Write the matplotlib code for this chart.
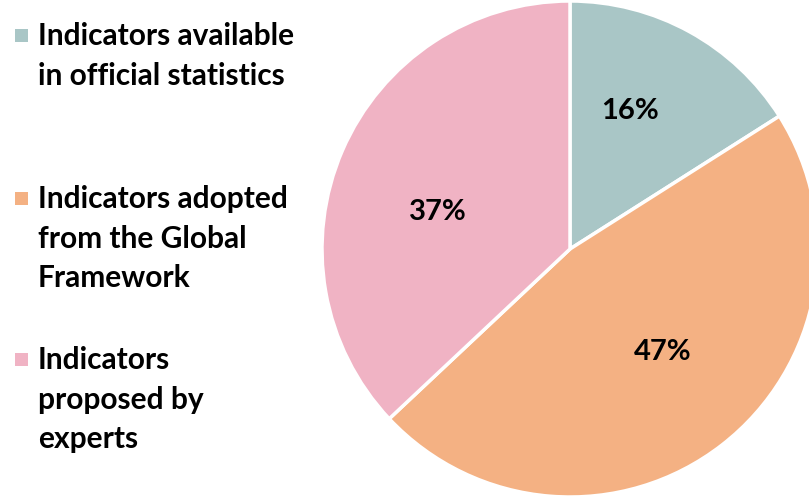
import matplotlib.pyplot as plt
from matplotlib.patches import Rectangle

# Share of indicators by source (%)
categories = ['Indicators available\nin official statistics',
              'Indicators adopted\nfrom the Global\nFramework',
              'Indicators\nproposed by\nexperts']
shares = [16, 47, 37]
colors = ['#A9C6C6', '#F4B183', '#F0B3C4']

W, H = 809, 499
fig = plt.figure(figsize=(W / 100, H / 100), dpi=100)

# pie centred at (570, 250) px, radius ~248 px, runs off the right edge
cx, cy, r = 570, 249, 248
ax = fig.add_axes([(cx - r) / W, (H - cy - r) / H, 2 * r / W, 2 * r / H])
wedges, texts, autotexts = ax.pie(
    shares, colors=colors, startangle=90, counterclock=False,
    autopct='%d%%', pctdistance=0.58,
    wedgeprops=dict(edgecolor='white', linewidth=2.5),
    textprops=dict(fontsize=21, fontweight='bold', family='Lato', color='black'))
for w in wedges:
    w.set_clip_on(False)

# label spots as placed in the original (best-fit style)
label_pos = [(0.242, 0.556), (0.375, -0.415), (-0.532, 0.149)]
for t, p in zip(autotexts, label_pos):
    t.set_position(p)

ax.set_xlim(-1, 1)
ax.set_ylim(-1, 1)
ax.set_aspect('auto')
ax.axis('off')

# hand-made legend: square lined up with first text line
legend_tops = [35, 198, 359]
for label, color, y in zip(categories, colors, legend_tops):
    fig.patches.append(Rectangle((15 / W, 1 - (y + 7) / H), 13 / W, 13 / H,
                                 facecolor=color, edgecolor='none',
                                 transform=fig.transFigure))
    fig.text(38 / W, 1 - (y - 13) / H, label, ha='left', va='top',
             fontsize=21.5, fontweight='bold', family='Lato',
             linespacing=1.51, color='black')

fig.savefig('out.png', dpi=100, facecolor='white')
